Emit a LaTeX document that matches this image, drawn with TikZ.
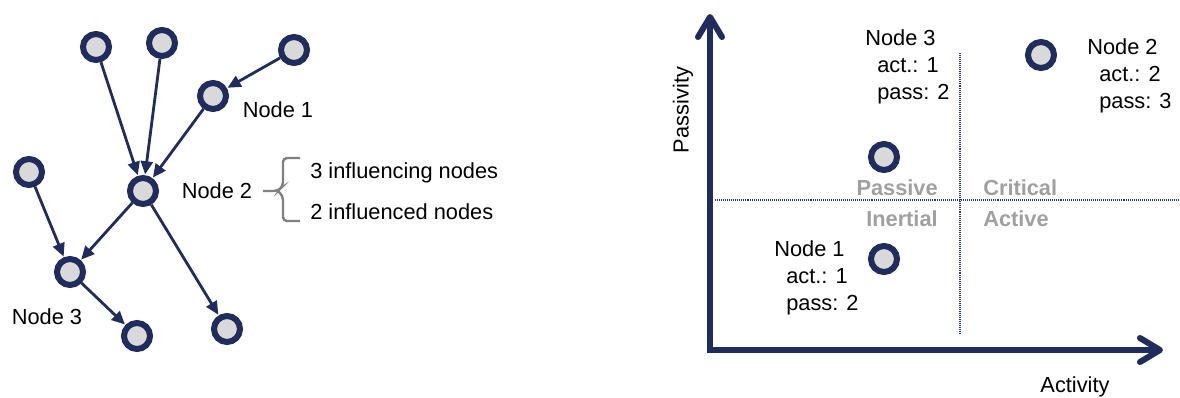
\documentclass[tikz,border=0pt]{standalone}
\usepackage{fontspec}
\setmainfont{Liberation Sans}
\usepackage{tikz}
\usetikzlibrary{arrows.meta,positioning,calc}
\definecolor{infNavy}{HTML}{1F2C5C}
\definecolor{infFill}{HTML}{D9D9D9}
\definecolor{infBrace}{HTML}{808080}
\definecolor{infQuad}{HTML}{A0A0A0}
\definecolor{infGrid}{HTML}{2A3868}
\tikzset{
  infnode/.style={circle,draw=infNavy,fill=infFill,line width=0.15cm,minimum size=0.65cm,inner sep=0pt},
  infflow/.style={-{Triangle[length=3.3mm,width=3mm]},draw=infNavy,line width=0.07cm,shorten >=0.5pt},
  inflbl/.style={font=\fontsize{15.5}{19.5}\selectfont,inner sep=0pt,text=black},
  infquad/.style={inflbl,font=\fontsize{15.5}{19.5}\selectfont\bfseries,text=infQuad},
  infgrid/.style={draw=infGrid,line width=1pt,dash pattern=on 0.7pt off 0.7pt},
  infaxis/.style={{Straight Barb[length=5mm,width=6mm,round]}-{Straight Barb[length=5mm,width=6mm,round]},draw=infNavy,line width=0.15cm},
  infbrace/.style={draw=infBrace,line width=0.06cm,rounded corners=0.1cm},
}
\begin{document}
\begin{tikzpicture}[x=0.025cm,y=-0.025cm]
  \useasboundingbox (0,0) rectangle (1180,397);
  % influence graph
  \node[infnode] (a)  at (96,47)   {};
  \node[infnode] (b)  at (162,43)  {};
  \node[infnode] (c)  at (294,50)  {};
  \node[infnode] (n1) at (213,96)  {};
  \node[infnode] (n2) at (143,191) {};
  \node[infnode] (d)  at (29,172)  {};
  \node[infnode] (n3) at (70,272)  {};
  \node[infnode] (e)  at (137,336) {};
  \node[infnode] (f)  at (227,329) {};
  \foreach \a/\b in {a/n2,b/n2,c/n1,n1/n2,d/n3,n2/n3,n2/f,n3/e}{\draw[infflow] (\a)--(\b);}
  \node[inflbl] (n1lbl) at (278,110) {Node 1};
  \node[inflbl] (n2lbl) at (217,191) {Node 2};
  \node[inflbl] (n3lbl) at (47,317)  {Node 3};
  \node[inflbl,anchor=west] (inlbl)  at (310,173) {3 influencing nodes};
  \node[inflbl,anchor=west] (outlbl) at (310,212) {2 influenced nodes};
  \draw[infbrace] (300,158) -- (283,158) -- (283,186) -- (278,191) -- (263,191);
  \draw[infbrace] (300,221) -- (283,221) -- (283,196) -- (278,191);

  % activity / passivity chart
  \coordinate (org)  at (710,350);
  \coordinate (ytip) at (710,14);
  \coordinate (xtip) at (1163,350);
  \draw[infgrid] (960,53) -- (960,333);
  \draw[infgrid] (715,200) -- (1180,200);
  \draw[infaxis,line join=miter] (ytip) -- (org) -- (xtip);
  \node[inflbl,rotate=90] (ylbl) at (683,110) {Passivity};
  \node[inflbl] (xlbl) at (1075,387) {Activity};
  \node[infquad,anchor=east] (qpas) at (938,188) {Passive};
  \node[infquad,anchor=east] (qine) at (938,219) {Inertial};
  \node[infquad,anchor=west] (qcri) at (983,188) {Critical};
  \node[infquad,anchor=west] (qact) at (983,219) {Active};
  \node[infnode] (r2) at (1041,55)  {};
  \node[infnode] (r3) at (884,157)  {};
  \node[infnode] (r1) at (884,259)  {};
  \node[inflbl,align=left,anchor=north west] (r3lbl) at (865,29)
       {Node 3\\\hspace{0.3cm}act.: 1\\\hspace{0.3cm}pass: 2};
  \node[inflbl,align=left,anchor=north west] (r2lbl) at (1087,38)
       {Node 2\\\hspace{0.3cm}act.: 2\\\hspace{0.3cm}pass: 3};
  \node[inflbl,align=left,anchor=north west] (r1lbl) at (774,240)
       {Node 1\\\hspace{0.3cm}act.: 1\\\hspace{0.3cm}pass: 2};
\end{tikzpicture}
\end{document}
